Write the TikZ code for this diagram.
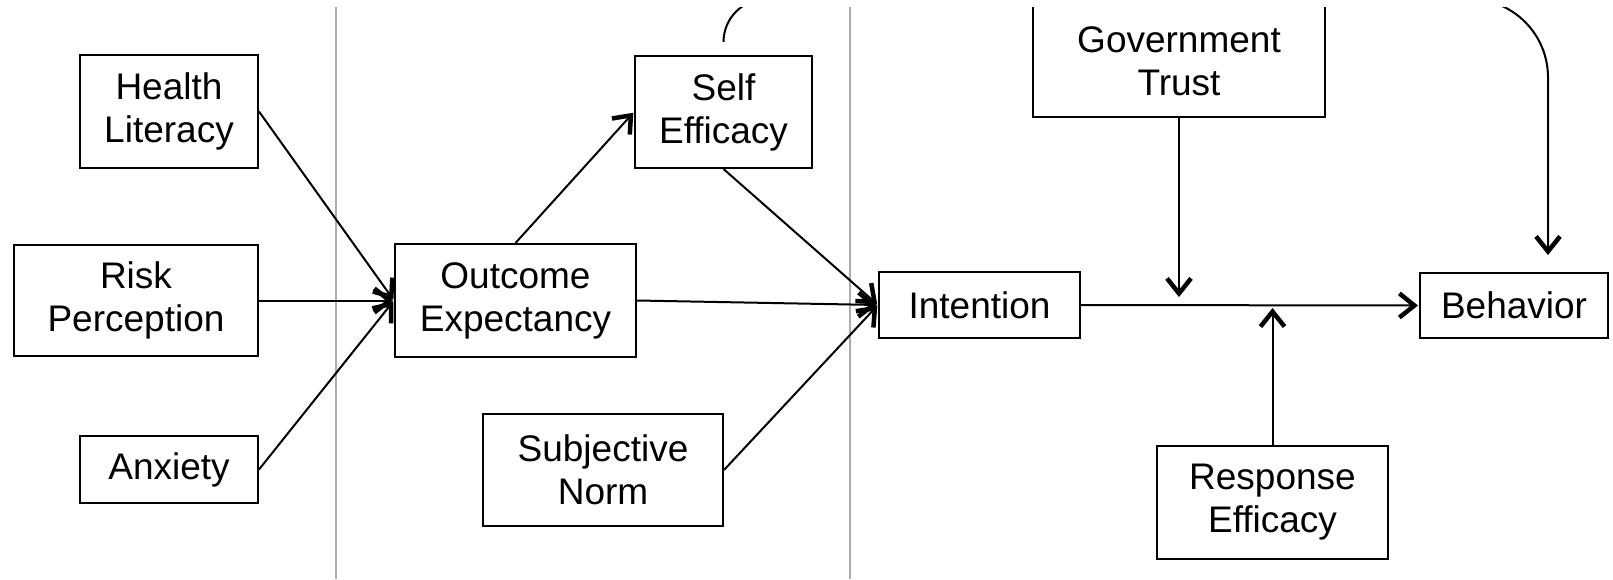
\documentclass[tikz,border=0pt]{standalone}
\usepackage{fontspec}
\setmainfont{Liberation Sans}
\usetikzlibrary{arrows.meta,positioning}

\begin{document}
\begin{tikzpicture}[
    x = 1pt, y = -1pt, % one unit per pixel, y runs down
    arr/.style = {-{Straight Barb[length=15pt,width=24pt,line width'=4.5pt]}}, % arrow head style
    shorten > = 1pt, % don't touch arrow head to node
    line width = 2pt % line style
    ]

    \tikzset{box/.style={
    draw = black,
    fill = white,
    align = center,
    inner sep = 0pt,
    font = \fontsize{37}{43}\selectfont
    }}

    \useasboundingbox (0,0) rectangle (1613,580);
    \begin{scope}
    \clip (0,8) rectangle (1613,580);

    % dividers
    \draw[gray!65, line width=2pt] (336,0) -- (336,580);
    \draw[gray!65, line width=2pt] (850,0) -- (850,580);

    \node[box, minimum width=178pt, minimum height=113pt] (hl) at (169,111.5) {Health\\Literacy};
    \node[box, minimum width=244pt, minimum height=111pt] (rp) at (136,300.5) {Risk\\Perception};
    \node[box, minimum width=178pt, minimum height=67pt] (anx) at (169,469.5) {Anxiety};
    \node[box, minimum width=241pt, minimum height=113pt] (oe) at (515.5,300.5) {Outcome\\Expectancy};
    \node[box, minimum width=177pt, minimum height=112pt] (se) at (723.5,112) {Self\\Efficacy};
    \node[box, minimum width=240pt, minimum height=112pt] (sn) at (603,470) {Subjective\\Norm};
    \node[box, minimum width=201pt, minimum height=66pt] (int) at (979.5,305) {Intention};
    \node[box, minimum width=292pt, minimum height=111pt] (gt) at (1179,61.5) {Government\\Trust};
    \node[box, minimum width=231pt, minimum height=113pt] (re) at (1272.5,502.5) {Response\\Efficacy};
    \node[box, minimum width=188pt, minimum height=65pt] (beh) at (1514,305.5) {Behavior};

    \path (hl.east) edge[arr] (oe.west);
    \path (rp.east) edge[arr] (oe.west);
    \path (anx.east) edge[arr] (oe.west);
    \path (oe.north) edge[arr] (se.west);
    \path (oe.east) edge[arr] (int.west);
    \path (se.south) edge[arr] (int.west);
    \path (sn.east) edge[arr] (int.west);
    \path (int.east) edge[arr] (beh.west);
    \path (gt.south) edge[arr, shorten >=8pt] (gt.south |- int.east);
    \path (re.north) edge[arr, shorten >=3pt] (re.north |- int.east);

    % loop over the top, cut by the frame
    \draw[arr] ([yshift=13pt]se.north) to[out=90,in=180] ++(43,-43) -- ++(703,0)
        to[out=0,in=90] ++(78.5,78.5) -- ([xshift=34pt,yshift=16pt]beh.north);
    \end{scope}
\end{tikzpicture}
\end{document}
